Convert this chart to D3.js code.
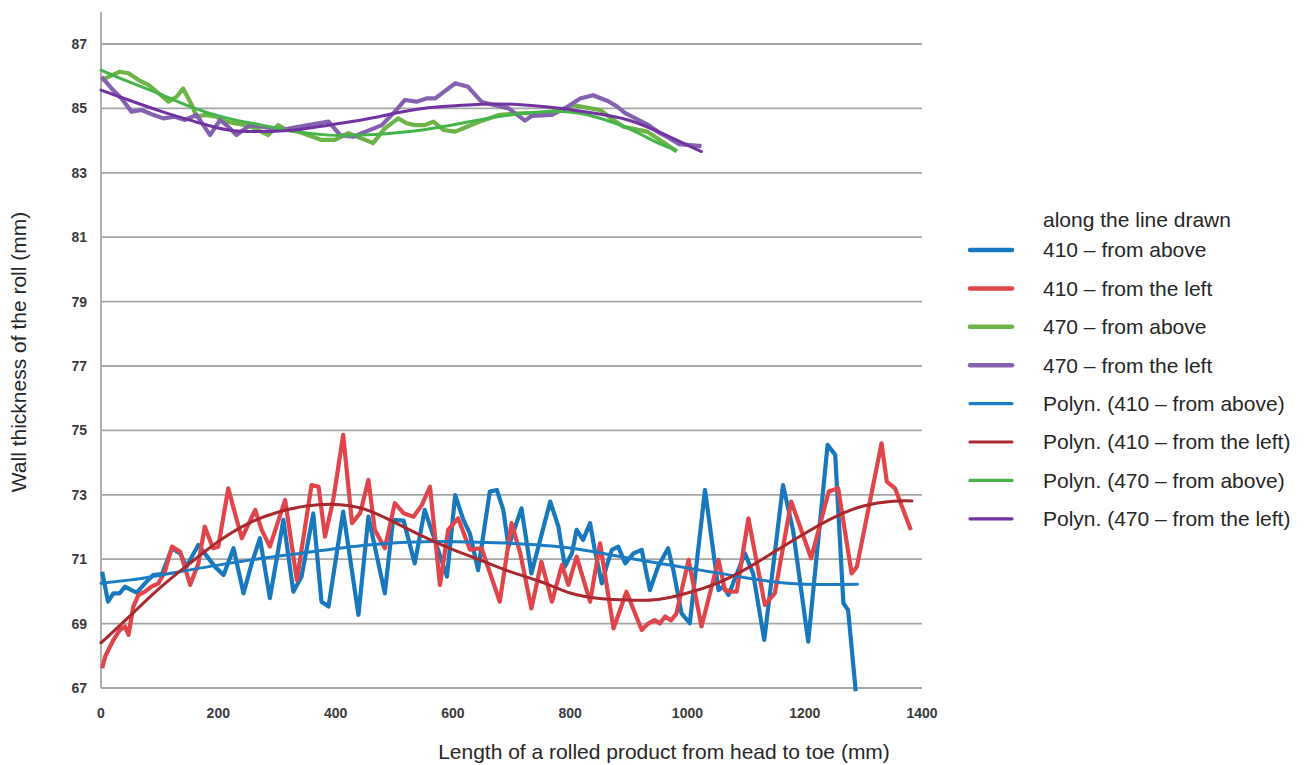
<!DOCTYPE html>
<html>
<head>
<meta charset="utf-8">
<script src="https://cdn.jsdelivr.net/npm/d3@7.9.0/dist/d3.min.js"></script>
<style>
  html, body { margin: 0; padding: 0; background: #fff; }
  svg { display: block; font-family: "Liberation Sans", Arial, sans-serif; }
</style>
</head>
<body>
<svg id="chart" width="1307" height="765"></svg>
<script>
// ---- data (x in mm, y in mm wall thickness) ----

const blueX = [2, 12, 21, 32, 41, 52, 61, 75, 89, 104, 121, 135, 146, 155, 166, 177, 194, 209, 226, 243, 257, 271, 288, 311, 328, 342, 362, 376, 388, 413, 439, 456, 484, 498, 516, 535, 552, 590, 604, 618, 629, 643, 663, 675, 686, 695, 717, 734, 766, 780, 791, 803, 811, 822, 834, 842, 854, 862, 871, 882, 894, 908, 922, 936, 950, 967, 976, 990, 1004, 1030, 1053, 1061, 1070, 1098, 1112, 1131, 1163, 1180, 1206, 1239, 1252, 1266, 1274, 1287];
const blueY = [70.61, 69.68, 69.94, 69.94, 70.15, 70.04, 69.96, 70.25, 70.51, 70.54, 71.34, 71.18, 70.77, 71.08, 71.44, 71.18, 70.77, 70.51, 71.34, 69.94, 70.87, 71.65, 69.79, 72.22, 69.99, 70.46, 72.42, 69.68, 69.53, 72.48, 69.27, 72.32, 69.94, 72.22, 72.2, 70.87, 72.53, 70.46, 72.99, 72.22, 71.8, 70.66, 73.1, 73.15, 72.53, 71.39, 72.58, 70.56, 72.79, 72.01, 70.77, 71.18, 71.91, 71.6, 72.12, 71.29, 70.25, 70.77, 71.29, 71.39, 70.87, 71.18, 71.29, 70.04, 70.77, 71.34, 70.66, 69.32, 69.01, 73.15, 70.04, 70.15, 69.89, 71.18, 70.56, 68.49, 73.3, 71.91, 68.44, 74.55, 74.24, 69.63, 69.42, 66.9];

const redX = [2, 7, 21, 32, 41, 47, 55, 64, 75, 86, 98, 109, 121, 135, 152, 166, 177, 191, 200, 217, 240, 263, 274, 288, 314, 334, 359, 371, 382, 396, 413, 428, 442, 456, 467, 484, 501, 516, 533, 547, 561, 578, 592, 609, 629, 649, 680, 700, 715, 734, 751, 769, 786, 797, 811, 834, 851, 874, 896, 922, 933, 944, 953, 962, 972, 981, 1002, 1024, 1053, 1064, 1076, 1084, 1104, 1132, 1149, 1177, 1211, 1241, 1257, 1280, 1289, 1331, 1340, 1354, 1381];
const redY = [67.61, 67.97, 68.49, 68.8, 68.91, 68.65, 69.53, 69.89, 69.99, 70.15, 70.25, 70.61, 71.39, 71.23, 70.2, 70.87, 72.01, 71.34, 71.39, 73.2, 71.65, 72.53, 71.91, 71.39, 72.84, 70.35, 73.3, 73.25, 71.7, 72.84, 74.86, 72.12, 72.43, 73.46, 71.91, 71.34, 72.74, 72.43, 72.32, 72.68, 73.25, 70.2, 71.91, 72.27, 71.3, 71.34, 69.68, 72.12, 71.18, 69.47, 70.92, 69.68, 70.82, 70.2, 71.08, 69.68, 71.49, 68.85, 69.99, 68.8, 69.0, 69.11, 69.0, 69.22, 69.1, 69.3, 70.98, 68.91, 70.98, 70.04, 69.99, 69.99, 72.27, 69.58, 69.94, 72.79, 71.03, 73.1, 73.2, 70.56, 70.77, 74.6, 73.41, 73.2, 71.91];

const greenX = [1, 32, 47, 64, 81, 98, 115, 129, 140, 155, 163, 177, 197, 214, 228, 246, 263, 285, 302, 317, 336, 376, 399, 422, 464, 484, 507, 521, 535, 552, 567, 584, 604, 624, 646, 680, 714, 749, 783, 805, 851, 874, 891, 931, 953, 982];
const greenY = [85.88, 86.14, 86.09, 85.88, 85.73, 85.47, 85.21, 85.36, 85.62, 85.1, 84.74, 84.8, 84.74, 84.59, 84.54, 84.48, 84.38, 84.17, 84.48, 84.33, 84.28, 84.02, 84.02, 84.23, 83.92, 84.38, 84.69, 84.54, 84.48, 84.48, 84.59, 84.33, 84.28, 84.43, 84.59, 84.8, 84.85, 84.85, 84.95, 85.1, 84.95, 84.64, 84.43, 84.28, 84.02, 83.66];

const purpleX = [1, 18, 35, 52, 69, 89, 106, 126, 143, 163, 186, 203, 217, 231, 254, 274, 308, 336, 388, 408, 430, 479, 501, 518, 538, 555, 570, 604, 626, 649, 672, 695, 723, 735, 769, 791, 817, 839, 864, 879, 894, 932, 953, 967, 986, 1004, 1024];
const purpleY = [85.98, 85.62, 85.31, 84.9, 84.95, 84.8, 84.69, 84.74, 84.64, 84.8, 84.17, 84.64, 84.43, 84.17, 84.48, 84.43, 84.33, 84.43, 84.59, 84.17, 84.12, 84.48, 84.9, 85.26, 85.21, 85.31, 85.31, 85.78, 85.67, 85.2, 85.1, 85.0, 84.62, 84.77, 84.8, 85.0, 85.31, 85.41, 85.23, 85.07, 84.85, 84.5, 84.23, 84.1, 83.89, 83.86, 83.83];

// trendlines (polynomial fits in the original)
const blueTrendX = [0, 47, 104, 217, 339, 454, 566, 689, 803, 916, 1056, 1170, 1290];
const blueTrendY = [70.25, 70.35, 70.51, 70.87, 71.18, 71.44, 71.55, 71.5, 71.34, 70.98, 70.56, 70.25, 70.22];

const redTrendX = [0, 50, 100, 150, 200, 250, 300, 350, 400, 450, 500, 550, 600, 650, 700, 750, 800, 850, 900, 950, 1000, 1050, 1100, 1150, 1200, 1250, 1300, 1350, 1383];
const redTrendY = [68.4, 69.25, 70.1, 70.85, 71.55, 72.1, 72.45, 72.65, 72.7, 72.55, 72.15, 71.7, 71.3, 70.95, 70.6, 70.3, 69.95, 69.78, 69.73, 69.75, 69.95, 70.25, 70.7, 71.25, 71.8, 72.3, 72.65, 72.8, 72.81];

const greenTrendX = [0, 47, 104, 160, 217, 274, 331, 388, 444, 534, 615, 700, 785, 842, 899, 945, 980];
const greenTrendY = [86.19, 85.83, 85.42, 85.0, 84.69, 84.48, 84.28, 84.17, 84.17, 84.3, 84.54, 84.8, 84.9, 84.74, 84.38, 83.97, 83.71];

const purpleTrendX = [0, 47, 104, 160, 217, 274, 331, 388, 444, 501, 558, 616, 672, 728, 786, 842, 899, 956, 1024];
const purpleTrendY = [85.57, 85.26, 84.9, 84.59, 84.33, 84.28, 84.33, 84.48, 84.64, 84.85, 85.02, 85.1, 85.14, 85.1, 85.0, 84.85, 84.64, 84.23, 83.66];

const xTicks = [0, 200, 400, 600, 800, 1000, 1200, 1400];
const yTicks = [67, 69, 71, 73, 75, 77, 79, 81, 83, 85, 87];

const legendLabels = [
  '410 – from above', '410 – from the left', '470 – from above', '470 – from the left',
  'Polyn. (410 – from above)', 'Polyn. (410 – from the left)',
  'Polyn. (470 – from above)', 'Polyn. (470 – from the left)'
];
const seriesColors = ['#1878be', '#e0454b', '#6cb446', '#8462b0', '#1b7cc4', '#a8282d', '#44b548', '#7232a2'];

// ---- chart ----
const svg = d3.select('#chart');
const x = d3.scaleLinear().domain([0, 1400]).range([101, 922]);
const y = d3.scaleLinear().domain([67, 88]).range([688, 11.8]);

const zip = (xs, ys) => xs.map((v, i) => [v, ys[i]]);

// gridlines
svg.append('g')
  .selectAll('line')
  .data(yTicks)
  .join('line')
  .attr('x1', x(0)).attr('x2', x(1400))
  .attr('y1', d => y(d)).attr('y2', d => y(d))
  .attr('stroke', '#a6a6a6')
  .attr('stroke-width', 1.8);

// left axis line
svg.append('line')
  .attr('x1', x(0)).attr('x2', x(0))
  .attr('y1', y(88)).attr('y2', y(67))
  .attr('stroke', '#a6a6a6')
  .attr('stroke-width', 1.8);

// tick labels
svg.append('g')
  .selectAll('text')
  .data(yTicks)
  .join('text')
  .attr('x', 87)
  .attr('y', d => y(d))
  .attr('dy', '0.35em')
  .attr('text-anchor', 'end')
  .attr('font-size', 14)
  .attr('font-weight', 'bold')
  .attr('fill', '#3a3a3a')
  .text(d => d);

svg.append('g')
  .selectAll('text')
  .data(xTicks)
  .join('text')
  .attr('x', d => x(d))
  .attr('y', 713)
  .attr('dy', '0.35em')
  .attr('text-anchor', 'middle')
  .attr('font-size', 14)
  .attr('font-weight', 'bold')
  .attr('fill', '#3a3a3a')
  .text(d => d);

// axis titles
svg.append('text')
  .attr('x', 664).attr('y', 752)
  .attr('dy', '0.35em')
  .attr('text-anchor', 'middle')
  .attr('font-size', 21)
  .attr('fill', '#262626')
  .text('Length of a rolled product from head to toe (mm)');

svg.append('text')
  .attr('transform', 'translate(19,352) rotate(-90)')
  .attr('dy', '0.35em')
  .attr('text-anchor', 'middle')
  .attr('font-size', 21)
  .attr('fill', '#262626')
  .text('Wall thickness of the roll (mm)');

// series
const line = d3.line().x(d => x(d[0])).y(d => y(d[1]));
const smooth = d3.line().x(d => x(d[0])).y(d => y(d[1])).curve(d3.curveNatural);

const dataSeries = [
  zip(blueX, blueY), zip(redX, redY), zip(greenX, greenY), zip(purpleX, purpleY)
];
const trendSeries = [
  zip(blueTrendX, blueTrendY), zip(redTrendX, redTrendY),
  zip(greenTrendX, greenTrendY), zip(purpleTrendX, purpleTrendY)
];

svg.append('g')
  .selectAll('path')
  .data(dataSeries)
  .join('path')
  .attr('d', line)
  .attr('fill', 'none')
  .attr('stroke', (d, i) => seriesColors[i])
  .attr('stroke-width', 4.2)
  .attr('stroke-linejoin', 'round');

svg.append('g')
  .selectAll('path')
  .data(trendSeries)
  .join('path')
  .attr('d', smooth)
  .attr('fill', 'none')
  .attr('stroke', (d, i) => seriesColors[i + 4])
  .attr('stroke-width', 3)
  .attr('stroke-linecap', 'round');

// legend
const legend = svg.append('g').attr('transform', 'translate(970,0)');
legend.append('text')
  .attr('x', 73).attr('y', 220)
  .attr('dy', '0.35em')
  .attr('font-size', 21)
  .attr('fill', '#262626')
  .text('along the line drawn');

const items = legend.selectAll('g.item')
  .data(legendLabels)
  .join('g')
  .attr('class', 'item')
  .attr('transform', (d, i) => `translate(0,${250 + i * 38.4})`);

items.append('line')
  .attr('x1', 0).attr('x2', 42)
  .attr('stroke', (d, i) => seriesColors[i])
  .attr('stroke-width', (d, i) => i < 4 ? 4.5 : 3.2)
  .attr('stroke-linecap', 'round');

items.append('text')
  .attr('x', 73)
  .attr('dy', '0.35em')
  .attr('font-size', 21)
  .attr('fill', '#262626')
  .text(d => d);
</script>
</body>
</html>
